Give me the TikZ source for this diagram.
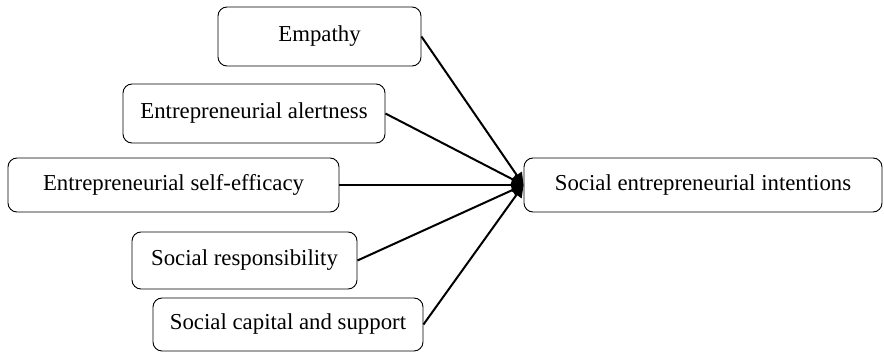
\documentclass[tikz,border=0pt]{standalone}
\usepackage{fontspec}
\setmainfont{Liberation Serif}
\usetikzlibrary{arrows.meta}

\begin{document}
\begin{tikzpicture}[x=1pt,y=1pt,yscale=-1,xscale=1]
\tikzset{
  factor/.style={draw, line width=0.9pt, rounded corners=9pt, inner sep=0pt,
    font=\fontsize{22.8}{26}\selectfont},
  link/.style={line width=2pt, -{Triangle[length=12pt,width=12pt]}}
}
\useasboundingbox (0,0) rectangle (884,353);

% predictors
\node[factor, minimum width=203, minimum height=59] (emp) at (319.5,36.5) {Empathy};
\node[factor, minimum width=262, minimum height=59] (alert) at (254,113.5) {Entrepreneurial alertness};
\node[factor, minimum width=331, minimum height=54] (eff) at (173.5,185) {Entrepreneurial self-efficacy};
\node[factor, minimum width=225, minimum height=57] (resp) at (244.5,260.5) {Social responsibility};
\node[factor, minimum width=270, minimum height=53] (cap) at (288,324.5) {Social capital and support};

% outcome
\node[factor, minimum width=358, minimum height=54] (sei) at (703,185) {Social entrepreneurial intentions};

\draw[link] (emp.east) -- (sei.west);
\draw[link] (alert.east) -- (sei.west);
\draw[link] (eff.east) -- (sei.west);
\draw[link] (resp.east) -- (sei.west);
\draw[link] (cap.east) -- (sei.west);

\end{tikzpicture}
\end{document}
